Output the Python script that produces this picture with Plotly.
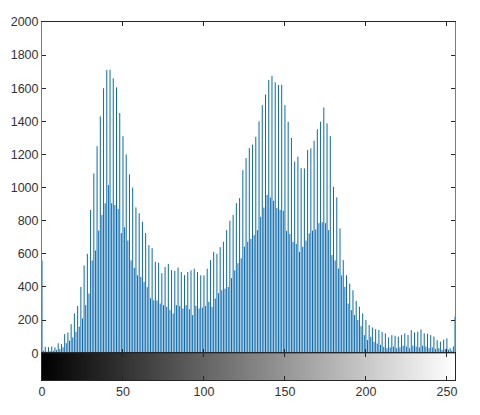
import plotly.graph_objects as go

# gray levels (bins) of the histogram
gray_levels = list(range(256))

# pixel counts per gray level
counts = [
    560, 15, 38, 10, 36, 12, 40, 15, 35, 20,
    60, 25, 55, 35, 115, 60, 125, 75, 175, 95,
    240, 130, 285, 160, 400, 210, 530, 290, 600, 360,
    865, 560, 1085, 620, 1250, 740, 1430, 835, 1600, 905,
    1710, 1015, 1712, 905, 1660, 895, 1605, 870, 1450, 725,
    1310, 760, 1200, 680, 1080, 560, 1000, 515, 880, 470,
    845, 460, 793, 430, 725, 398, 652, 332, 634, 320,
    552, 318, 546, 300, 483, 290, 520, 280, 538, 260,
    501, 240, 497, 290, 517, 285, 490, 270, 471, 290,
    490, 265, 500, 230, 510, 285, 490, 270, 470, 275,
    470, 285, 510, 310, 562, 280, 612, 330, 600, 362,
    640, 380, 673, 390, 743, 400, 800, 453, 834, 500,
    906, 543, 936, 573, 1105, 643, 1178, 673, 1238, 690,
    1260, 713, 1307, 743, 1400, 824, 1498, 880, 1562, 955,
    1650, 940, 1675, 920, 1635, 876, 1620, 865, 1620, 860,
    1498, 739, 1397, 720, 1300, 673, 1157, 660, 1186, 612,
    1117, 643, 1116, 680, 1227, 723, 1237, 740, 1283, 747,
    1352, 785, 1398, 790, 1484, 785, 1388, 743, 1311, 592,
    1005, 560, 941, 511, 753, 470, 562, 400, 471, 300,
    420, 260, 380, 230, 316, 200, 280, 163, 240, 109,
    200, 79, 169, 99, 155, 68, 145, 58, 140, 50,
    129, 38, 119, 30, 95, 35, 109, 40, 105, 30,
    100, 35, 109, 45, 119, 40, 110, 30, 139, 45,
    125, 40, 130, 35, 143, 45, 120, 40, 118, 30,
    109, 35, 100, 25, 78, 30, 70, 20, 82, 25,
    89, 20, 30, 15, 40, 220,
]

x_ticks = [0, 50, 100, 150, 200, 250]
y_ticks = [0, 200, 400, 600, 800, 1000, 1200, 1400, 1600, 1800, 2000]

# stems built from the data
stem_x, stem_y = [], []
for g, c in zip(gray_levels, counts):
    stem_x += [g, g, None]
    stem_y += [0, c, None]

font = dict(family="Liberation Sans, Arial, sans-serif", size=12.5, color="#333333")
axis_dark = "#262626"

fig = go.Figure()
fig.add_trace(go.Scatter(
    x=stem_x, y=stem_y, mode="lines",
    line=dict(color="#0a6aad", width=1),
    xaxis="x", yaxis="y", hoverinfo="skip", showlegend=False,
))
fig.add_trace(go.Heatmap(
    z=[gray_levels], x=gray_levels, y=[0],
    colorscale=[[0, "black"], [1, "white"]], showscale=False,
    xaxis="x2", yaxis="y2", hoverinfo="skip",
))

fig.update_layout(
    width=480, height=415,
    margin=dict(l=42, r=25, t=22, b=35),
    paper_bgcolor="white", plot_bgcolor="white",
    font=font, showlegend=False, hovermode=False,
    xaxis=dict(
        domain=[0, 1], anchor="y", range=[0, 255],
        tickvals=x_ticks, showticklabels=False,
        ticks="inside", ticklen=4, tickcolor=axis_dark,
        showline=True, linecolor=axis_dark, linewidth=1.5, mirror="allticks",
        showgrid=False, zeroline=False,
    ),
    yaxis=dict(
        domain=[0.075, 1], anchor="x", range=[0, 2000],
        tickvals=y_ticks, ticktext=[str(v) for v in y_ticks],
        ticks="inside", ticklen=4, tickcolor=axis_dark,
        showline=True, linecolor="#3a8dc1", linewidth=1, mirror="allticks",
        showgrid=False, zeroline=False,
    ),
    xaxis2=dict(
        domain=[0, 1], anchor="y2", range=[0, 255],
        tickvals=x_ticks, ticktext=[str(v) for v in x_ticks],
        ticks="inside", ticklen=4, tickcolor=axis_dark,
        showline=True, linecolor=axis_dark, linewidth=1, mirror="allticks",
        showgrid=False, zeroline=False,
    ),
    yaxis2=dict(
        domain=[0, 0.075], anchor="x2", range=[-0.5, 0.5],
        showticklabels=False, ticks="",
        showline=True, linecolor=axis_dark, linewidth=1, mirror=True,
        showgrid=False, zeroline=False,
    ),
)

fig.write_html(
    "out.html",
    config={"displayModeBar": False, "staticPlot": True},
    post_script="document.body.style.margin='0';",
)
